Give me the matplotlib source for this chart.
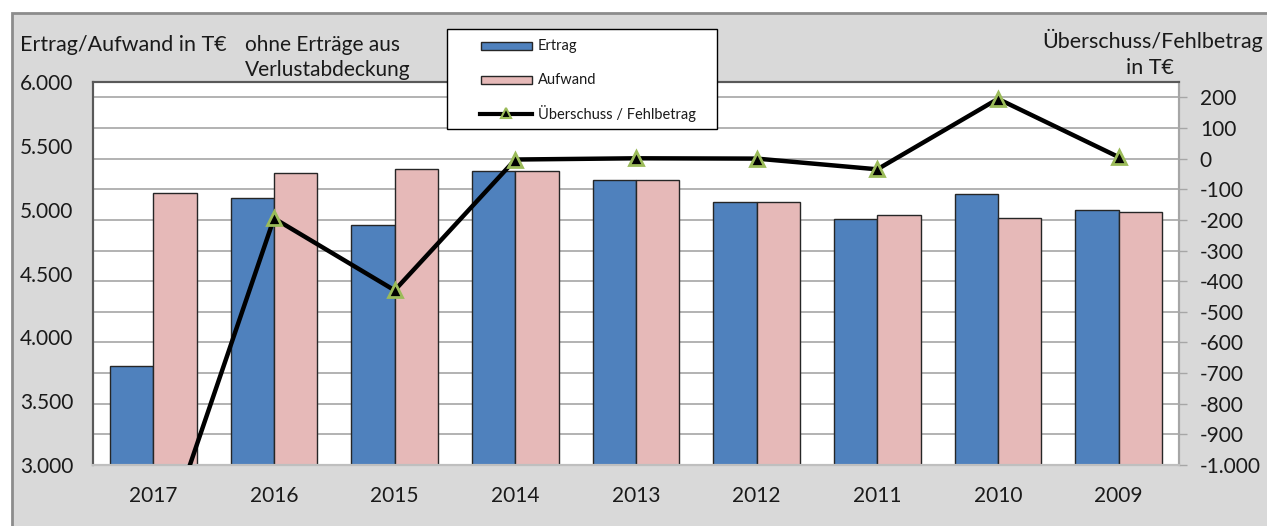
import matplotlib.pyplot as plt
from matplotlib.patches import Rectangle
from matplotlib.lines import Line2D
import numpy as np

# Jahreswerte in T€
jahre = ['2017', '2016', '2015', '2014', '2013', '2012', '2011', '2010', '2009']
ertrag = [3775, 5095, 4880, 5305, 5235, 5058, 4925, 5125, 4995]
aufwand = [5130, 5285, 5315, 5305, 5235, 5058, 4958, 4937, 4985]
ueberschuss = [-1350, -195, -430, -3, 1, 0, -35, 195, 5]

links_ticks = [3000, 3500, 4000, 4500, 5000, 5500, 6000]
rechts_ticks = list(range(-1000, 201, 100))

BLAU = '#4f81bd'
ROSA = '#e6b9b8'
GRUEN = '#9bbb59'

W, H = 1267, 526
fig = plt.figure(figsize=(W / 100, H / 100), dpi=100)
fig.patch.set_facecolor('white')


def px(x, y):
    # Pixelkoordinaten (von oben links) -> Figurkoordinaten
    return x / W, 1 - y / H


# grauer Diagrammbereich mit Rahmen
fig.patches.append(Rectangle((12 / W, -0.01), 1.0, 1 - 13 / H + 0.01,
                             transform=fig.transFigure, facecolor='#d9d9d9',
                             edgecolor='#8c8c8c', linewidth=2, zorder=-10))

ax = fig.add_axes([93 / W, (H - 465) / H, (1179 - 93) / W, (465 - 82) / H])
ax.set_facecolor('white')
ax2 = ax.twinx()

font = 'Lato'
dunkel = '#1a1a1a'


def fmt(v):
    return f'{v:,}'.replace(',', '.')


x = np.arange(len(jahre))
bw = 0.36
ax.bar(x - bw / 2, ertrag, bw, color=BLAU, edgecolor='#262626', linewidth=1, zorder=2)
ax.bar(x + bw / 2, aufwand, bw, color=ROSA, edgecolor='#262626', linewidth=1, zorder=2)
ax.set_xlim(-0.5, len(jahre) - 0.5)
ax.set_ylim(3000, 6000)

# Gitterlinien entsprechend der rechten Achse
for v in rechts_ticks:
    ax.axhline(3000 + (v + 1000) * 3000 / 1250, color='#a6a6a6', linewidth=1.2, zorder=1)

ax.set_yticks(links_ticks)
ax.set_yticklabels([fmt(v) for v in links_ticks], fontsize=15, family=font, color=dunkel)
ax.tick_params(axis='y', length=0, pad=14)
ax.set_xticks(x)
ax.set_xticklabels(jahre, fontsize=15, family=font, color=dunkel)
ax.tick_params(axis='x', length=0, pad=15)

ax2.plot(x, ueberschuss, color='black', linewidth=3.2, marker='^', markersize=10,
         markerfacecolor='black', markeredgecolor=GRUEN, markeredgewidth=2, zorder=3)
ax2.set_ylim(-1000, 250)
ax2.set_yticks(rechts_ticks)
ax2.set_yticklabels([fmt(v) for v in rechts_ticks], fontsize=15, family=font, color=dunkel)
ax2.tick_params(axis='y', length=6, width=1, color='#a6a6a6', pad=9)

for a in (ax, ax2):
    a.spines['left'].set_color('#595959')
    a.spines['top'].set_color('#595959')
    a.spines['right'].set_color('#a6a6a6')
    a.spines['bottom'].set_color('#bfbfbf')
    for s in a.spines.values():
        s.set_linewidth(1.5)

# Achsentitel
fig.text(*px(20, 45), 'Ertrag/Aufwand in T€', fontsize=15.5, family=font,
         ha='left', va='center', color=dunkel)
fig.text(*px(245, 45), 'ohne Erträge aus', fontsize=15, family=font,
         ha='left', va='center', color=dunkel)
fig.text(*px(245, 70), 'Verlustabdeckung', fontsize=15, family=font,
         ha='left', va='center', color=dunkel)
fig.text(*px(1263, 40), 'Überschuss/Fehlbetrag', fontsize=15.5, family=font,
         ha='right', va='center', color=dunkel)
fig.text(*px(1150, 68), 'in T€', fontsize=15.5, family=font,
         ha='center', va='center', color=dunkel)

# Legende als Kasten mit Einträgen
fig.patches.append(Rectangle(px(447, 129), 270 / W, 100 / H, transform=fig.transFigure,
                             facecolor='white', edgecolor='black', linewidth=1, zorder=5))
for yy, farbe in ((46, BLAU), (80, ROSA)):
    fig.patches.append(Rectangle(px(481, yy + 4), 51 / W, 8 / H, transform=fig.transFigure,
                                 facecolor=farbe, edgecolor='#262626', linewidth=1, zorder=6))
fig.lines.append(Line2D([480 / W, 532 / W], [1 - 114 / H] * 2, transform=fig.transFigure,
                        color='black', linewidth=3, zorder=6))
fig.lines.append(Line2D([506 / W], [1 - 113 / H], transform=fig.transFigure, marker='^',
                        markersize=7, markerfacecolor='black', markeredgecolor=GRUEN,
                        markeredgewidth=1.5, zorder=7))
for yy, label in ((46, 'Ertrag'), (80, 'Aufwand'), (114, 'Überschuss / Fehlbetrag')):
    t = fig.text(*px(538, yy), label, fontsize=10.5, family=font, ha='left',
                 va='center', color=dunkel)
    t.set_zorder(7)

fig.savefig('out.png', dpi=100)
